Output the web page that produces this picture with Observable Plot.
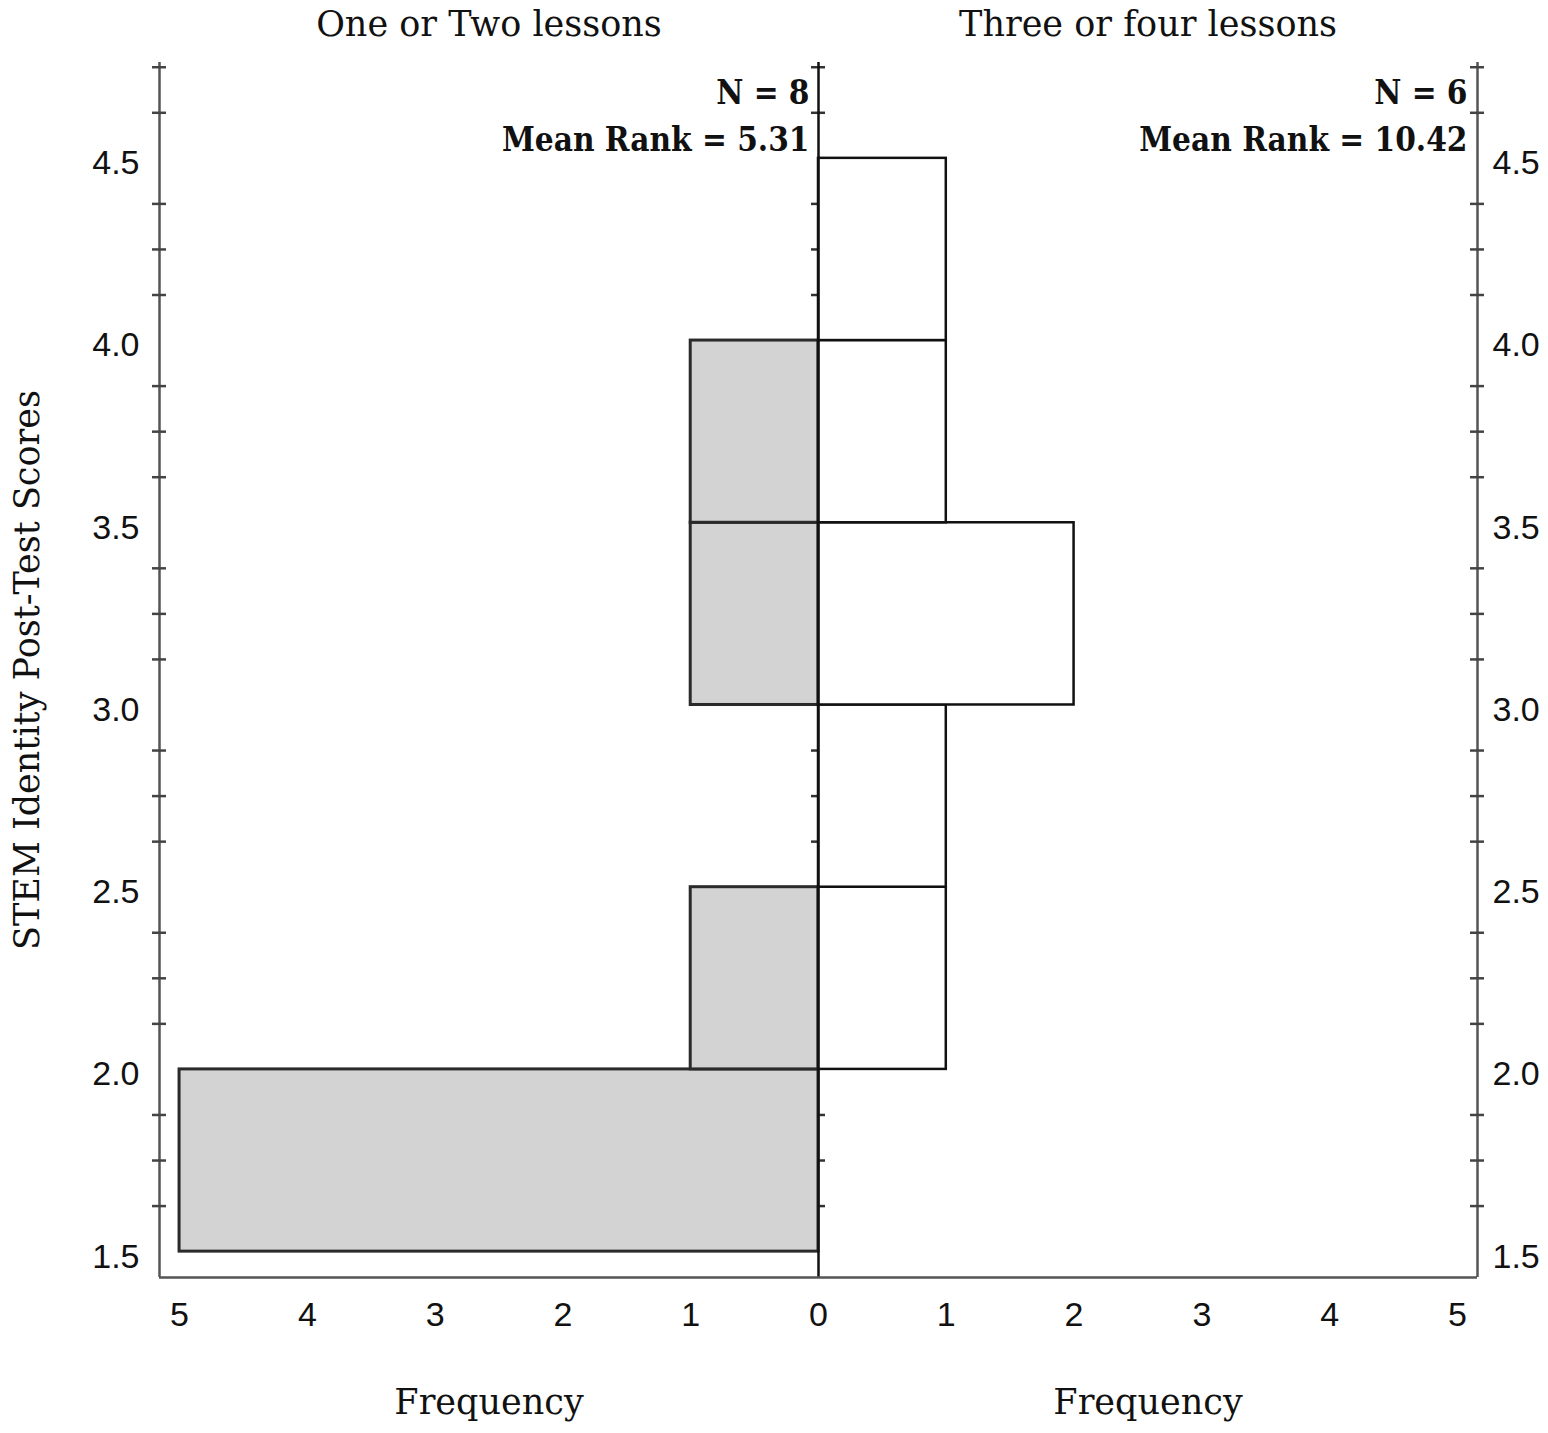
<!DOCTYPE html>
<html>
<head>
<meta charset="utf-8">
<script src="https://cdn.jsdelivr.net/npm/d3@7"></script>
<script src="https://cdn.jsdelivr.net/npm/@observablehq/plot@0.6"></script>
<style>
  html, body { margin: 0; padding: 0; background: #fff; }
  #chart svg { display: block; }
</style>
</head>
<body>
<div id="chart"></div>
<script>
// ---- data ----
const binStarts   = [1.5, 2.0, 2.5, 3.0, 3.5, 4.0];
const binWidth    = 0.5;
const leftCounts  = [5, 1, 0, 1, 1, 0];   // One or Two lessons
const rightCounts = [0, 1, 1, 2, 1, 1];   // Three or four lessons
const panelTitles = ["One or Two lessons", "Three or four lessons"];
const statsLeft   = ["N = 8", "Mean Rank = 5.31"];
const statsRight  = ["N = 6", "Mean Rank = 10.42"];
const xTickValues = [-5, -4, -3, -2, -1, 0, 1, 2, 3, 4, 5];
const yTickValues = [1.5, 2.0, 2.5, 3.0, 3.5, 4.0, 4.5];
const yMinorTicks = [1.625, 1.75, 1.875, 2.125, 2.25, 2.375, 2.625, 2.75, 2.875,
                     3.125, 3.25, 3.375, 3.625, 3.75, 3.875, 4.125, 4.25, 4.375, 4.625, 4.75];
const yLabel = "STEM Identity Post-Test Scores";
const xLabel = "Frequency";

// ---- layout ----
const W = 1548, H = 1433;
const mL = 159, mR = 71, mT = 62, mB = 156;
const xDom = [-5.157, 5.157];
const yDom = [1.429, 4.763];
const pxPerX = (W - mL - mR) / (xDom[1] - xDom[0]);
const tickU = 7 / pxPerX;

const leftBars = binStarts.map((s, i) => ({y1: s, y2: s + binWidth, x1: -leftCounts[i], x2: 0})).filter(d => d.x1 !== 0);
const rightBars = binStarts.map((s, i) => ({y1: s, y2: s + binWidth, x1: 0, x2: rightCounts[i]})).filter(d => d.x2 !== 0);

const serif = "'DejaVu Serif', 'Liberation Serif', serif";
const serifBold = "'DejaVu Serif Condensed', 'DejaVu Serif', serif";
const sans = "'Liberation Sans', Arial, sans-serif";
const axisColor = "#555";

const statMark = (texts, xPos, dx) => [
  Plot.text([texts[0]], {x: xPos, frameAnchor: "top", textAnchor: "end", lineAnchor: "middle", dx, dy: 31,
    fontFamily: serifBold, fontWeight: "bold", fontSize: 33, fill: "#111"}),
  Plot.text([texts[1]], {x: xPos, frameAnchor: "top", textAnchor: "end", lineAnchor: "middle", dx, dy: 78,
    fontFamily: serifBold, fontWeight: "bold", fontSize: 33, fill: "#111"})
];

const chart = Plot.plot({
  width: W, height: H,
  marginLeft: mL, marginRight: mR, marginTop: mT, marginBottom: mB,
  x: {domain: xDom, axis: null},
  y: {domain: yDom, axis: null},
  style: {background: "#fff", overflow: "visible"},
  marks: [
    // minor ticks on center line (under bars)
    Plot.ruleY(yMinorTicks, {y: d => d, x1: -tickU, x2: tickU, stroke: "#333", strokeWidth: 2.5}),
    // bars
    Plot.rect(leftBars, {x1: "x1", x2: "x2", y1: "y1", y2: "y2", fill: "#d3d3d3", stroke: "#2a2a2a", strokeWidth: 3}),
    Plot.rect(rightBars, {x1: "x1", x2: "x2", y1: "y1", y2: "y2", fill: "#fff", stroke: "#111", strokeWidth: 2.5}),
    // frame lines
    Plot.ruleX([xDom[0], xDom[1]], {stroke: axisColor, strokeWidth: 2.5}),
    Plot.ruleX([0], {stroke: "#111", strokeWidth: 2.5}),
    Plot.ruleY([yDom[0]], {stroke: axisColor, strokeWidth: 2.5}),
    // minor ticks on left and right axes
    Plot.ruleY(yMinorTicks, {y: d => d, x1: xDom[0] - tickU, x2: xDom[0] + tickU, stroke: "#444", strokeWidth: 2.5}),
    Plot.ruleY(yMinorTicks, {y: d => d, x1: xDom[1] - tickU, x2: xDom[1] + tickU, stroke: "#444", strokeWidth: 2.5}),
    // y tick labels
    Plot.text(yTickValues, {y: d => d, text: d => d.toFixed(1), frameAnchor: "left", textAnchor: "end", dx: -20, dy: 5,
      fontFamily: sans, fontSize: 34, fill: "#111"}),
    Plot.text(yTickValues, {y: d => d, text: d => d.toFixed(1), frameAnchor: "right", textAnchor: "start", dx: 15, dy: 5,
      fontFamily: sans, fontSize: 34, fill: "#111"}),
    // x tick labels
    Plot.text(xTickValues, {x: d => d, text: d => String(Math.abs(d)), frameAnchor: "bottom", lineAnchor: "middle", dy: 38,
      fontFamily: sans, fontSize: 34, fill: "#111"}),
    // axis labels
    Plot.text([xLabel], {x: xDom[0] / 2, frameAnchor: "bottom", lineAnchor: "middle", dy: 125, fontFamily: serif, fontSize: 35, fill: "#111"}),
    Plot.text([xLabel], {x: xDom[1] / 2, frameAnchor: "bottom", lineAnchor: "middle", dy: 125, fontFamily: serif, fontSize: 35, fill: "#111"}),
    Plot.text([yLabel], {frameAnchor: "left", textAnchor: "middle", lineAnchor: "middle", rotate: -90, dx: -132, fontFamily: serif, fontSize: 35, fill: "#111"}),
    // panel titles
    Plot.text([panelTitles[0]], {x: xDom[0] / 2, frameAnchor: "top", lineAnchor: "middle", dy: -38, fontFamily: serif, fontSize: 35, fill: "#111"}),
    Plot.text([panelTitles[1]], {x: xDom[1] / 2, frameAnchor: "top", lineAnchor: "middle", dy: -38, fontFamily: serif, fontSize: 35, fill: "#111"}),
    // stats
    ...statMark(statsLeft, 0, -9),
    ...statMark(statsRight, xDom[1], -10),
  ]
});
document.getElementById("chart").appendChild(chart);
</script>
</body>
</html>
